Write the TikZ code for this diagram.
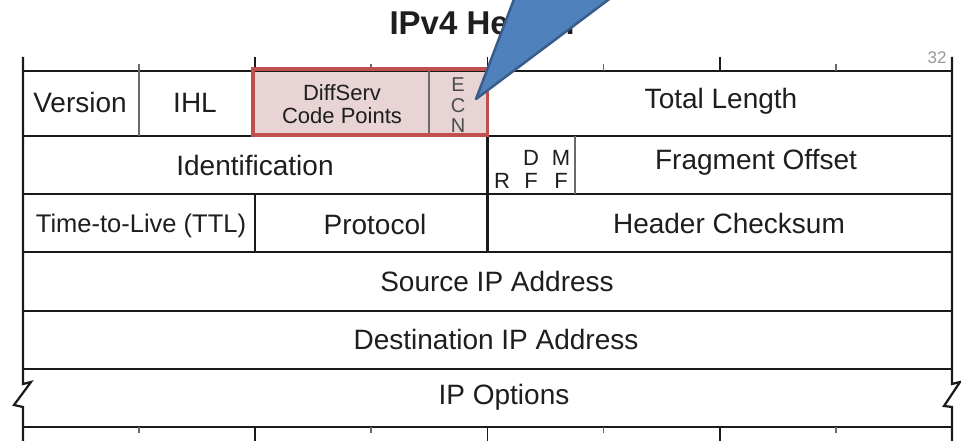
\documentclass[tikz,border=0pt]{standalone}
\usepackage{fontspec}
\setmainfont{Liberation Sans}
\definecolor{txt}{HTML}{1E1E1E}
\definecolor{rule}{HTML}{1A1A1A}
\definecolor{thin}{HTML}{6A6A6A}
\definecolor{hlred}{HTML}{C0504D}
\definecolor{hlfill}{HTML}{E8D4D4}
\definecolor{callfill}{HTML}{4F81BD}
\definecolor{calledge}{HTML}{385D8A}
\tikzset{
  frame/.style={draw=rule, line width=2.2pt},
  divider/.style={draw=thin, line width=1.4pt},
  field/.style={inner sep=0pt, text=txt, font=\fontsize{28}{32}\selectfont},
  smallfield/.style={inner sep=0pt, text=txt, font=\fontsize{22}{23}\selectfont, align=center},
  flagtext/.style={inner sep=0pt, text=txt, font=\fontsize{22}{24}\selectfont},
  ecntext/.style={inner sep=0pt, text=txt!80, font=\fontsize{20}{20}\selectfont},
}
\begin{document}
\begin{tikzpicture}[x=1pt, y=-1pt]
\clip (0,0) rectangle (961,441);
\fill[white] (0,0) rectangle (961,441);

% heading
\node[inner sep=0pt, font=\fontsize{33}{36}\selectfont\bfseries, text=txt] (title) at (484,23) {IPv4 Header};
\node[inner sep=0pt, font=\fontsize{17}{18}\selectfont, text=black!40] (bits) at (937,58) {32};

% highlighted DSCP/ECN background
\fill[hlfill] (253,71) rectangle (487.5,136);

% outer border and row separators
\draw[frame] (23,71) -- (952,71);
\foreach \y in {136,194,252,311,369,427}
  \draw[frame] (23,\y) -- (952,\y);
\draw[frame] (23,57) -- (23,384) -- (31,382) -- (14,405) -- (23,407) -- (23,441);
\draw[frame] (952,57) -- (952,384) -- (960,382) -- (944,406) -- (952,407) -- (952,441);

% bit ticks above and below
\foreach \x in {255,487.5,720} {
  \draw[frame, line width=1.6pt] (\x,57) -- (\x,71);
  \draw[frame, line width=1.6pt] (\x,427) -- (\x,441);
}
\foreach \x in {139,371,603.5,836} {
  \draw[divider] (\x,64) -- (\x,71);
  \draw[divider] (\x,427) -- (\x,433);
}

% field dividers
\draw[divider] (139,71) -- (139,136);
\draw[divider] (429,71) -- (429,136);
\draw[frame] (487.5,71) -- (487.5,252);
\draw[divider] (575,136) -- (575,194);
\draw[frame, line width=1.8pt] (255,194) -- (255,252);

% highlight frame
\draw[hlred, line width=3.5pt] (253,69) rectangle (487.5,135);

% row 1
\node[field] (version) at (80,102) {Version};
\node[field] (ihl) at (195,103) {IHL};
\node[smallfield] (dscp) at (342,104) {DiffServ\\Code Points};
\node[ecntext] (ecne) at (458,85) {E};
\node[ecntext] (ecnc) at (458,106) {C};
\node[ecntext] (ecnn) at (458,126) {N};
\node[field] (totlen) at (721,101) {Total Length};

% row 2
\node[field] (ident) at (255,165) {Identification};
\node[flagtext] (flagr) at (502,181) {R};
\node[flagtext] (flagd) at (531,158) {D};
\node[flagtext] (flagdf) at (531,181) {F};
\node[flagtext] (flagm) at (561,158) {M};
\node[flagtext] (flagmf) at (561,181) {F};
\node[field] (fragoff) at (756,162) {Fragment Offset};

% row 3
\node[field, font=\fontsize{25.5}{28}\selectfont] (ttl) at (141,226) {Time-to-Live (TTL)};
\node[field] (proto) at (375,224) {Protocol};
\node[field] (cksum) at (729,223) {Header Checksum};

% rows 4 to 6
\node[field] (srcip) at (497,281) {Source IP Address};
\node[field] (dstip) at (496,339) {Destination IP Address};
\node[field] (ipopt) at (504,397) {IP Options};

% callout pointer
\filldraw[fill=callfill, draw=calledge, line width=2.5pt, line join=round]
  (476,99) -- (516,-6) -- (616,-6) -- cycle;
\coordinate (tip) at (476,99);
\end{tikzpicture}
\end{document}
